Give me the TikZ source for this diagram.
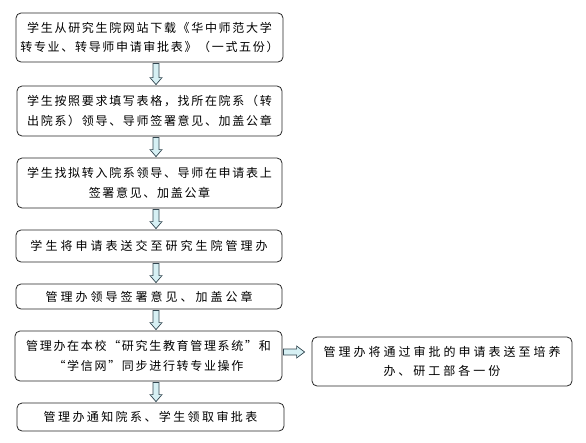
\documentclass[tikz,border=0pt]{standalone}
\usepackage{fontspec}
\usepackage{tikz}
\usetikzlibrary{calc}
\newfontfamily\cjk[LetterSpace=14]{Noto Sans CJK SC}
\definecolor{arrowfill}{RGB}{214,240,244}
\definecolor{arrowline}{RGB}{50,70,80}

\begin{document}
\begin{tikzpicture}[x=1pt, y=-1pt,
	box/.style={draw=black!85, line width=0.8pt, rounded corners=5pt, align=center, inner sep=0pt,
		font=\cjk\fontsize{12}{19.5}\selectfont},
	widebox/.style={box, font=\cjk\addfontfeature{LetterSpace=25}\fontsize{12}{19.5}\selectfont},
	blockarrow/.style={draw=arrowline, fill=arrowfill, line width=0.7pt, line join=miter}]

				\useasboundingbox (0,0) rectangle (586,442);

				\newcommand{\blockdown}[2]{
					\path (ax |- #1.south) coordinate (s) (ax |- #2.north) coordinate (e);
					\draw[blockarrow] ($(s)+(-3,1)$) -- ($(e)+(-3,-8)$) -- ($(e)+(-6,-8)$) -- ($(e)+(0,-1)$)
						-- ($(e)+(6,-8)$) -- ($(e)+(3,-8)$) -- ($(s)+(3,1)$) -- cycle;
				}

				% boxes
				\node[box, minimum width=267, minimum height=49] (b1) at (149.5,37.5)
					{学生从研究生院网站下载《华中师范大学\\转专业、转导师申请审批表》（一式五份）};
				\node[box, minimum width=265, minimum height=50] (b2) at (149.5,111)
					{学生按照要求填写表格，找所在院系（转\\出院系）领导、导师签署意见、加盖公章};
				\node[box, minimum width=265, minimum height=50] (b3) at (149.5,183)
					{学生找拟转入院系领导、导师在申请表上\\签署意见、加盖公章};
				\node[widebox, minimum width=266, minimum height=32] (b4) at (149,246)
					{学生将申请表送交至研究生院管理办};
				\node[widebox, minimum width=266, minimum height=25] (b5) at (149,296.5)
					{管理办领导签署意见、加盖公章};
				\node[box, minimum width=267, minimum height=50] (b6) at (148.5,356)
					{管理办在本校“研究生教育管理系统”和\\“学信网”同步进行转专业操作};
				\node[widebox, minimum width=260, minimum height=49] (b7) at (442,361.5)
					{管理办将通过审批的申请表送至培养\\办、研工部各一份};
				\node[box, minimum width=267, minimum height=28,
					font=\cjk\addfontfeature{LetterSpace=20}\fontsize{12}{19.5}\selectfont] (b8) at (150.5,417)
					{管理办通知院系、学生领取审批表};

				% arrows
				\coordinate (ax) at (156,0);
				\blockdown{b1}{b2}
				\blockdown{b2}{b3}
				\blockdown{b3}{b4}
				\blockdown{b4}{b5}
				\blockdown{b5}{b6}
				\blockdown{b6}{b8}
				\coordinate (r1) at ($(b6.east)+(1,-4)$);
				\coordinate (r2) at ($(b7.west)+(-7,0)$);
				\draw[blockarrow] ($(r1)+(0,-3)$) -- ($(r2 |- r1)+(-8,-3)$) -- ($(r2 |- r1)+(-8,-6)$) -- (r2 |- r1)
					-- ($(r2 |- r1)+(-8,6)$) -- ($(r2 |- r1)+(-8,3)$) -- ($(r1)+(0,3)$) -- cycle;
			\end{tikzpicture}
\end{document}
